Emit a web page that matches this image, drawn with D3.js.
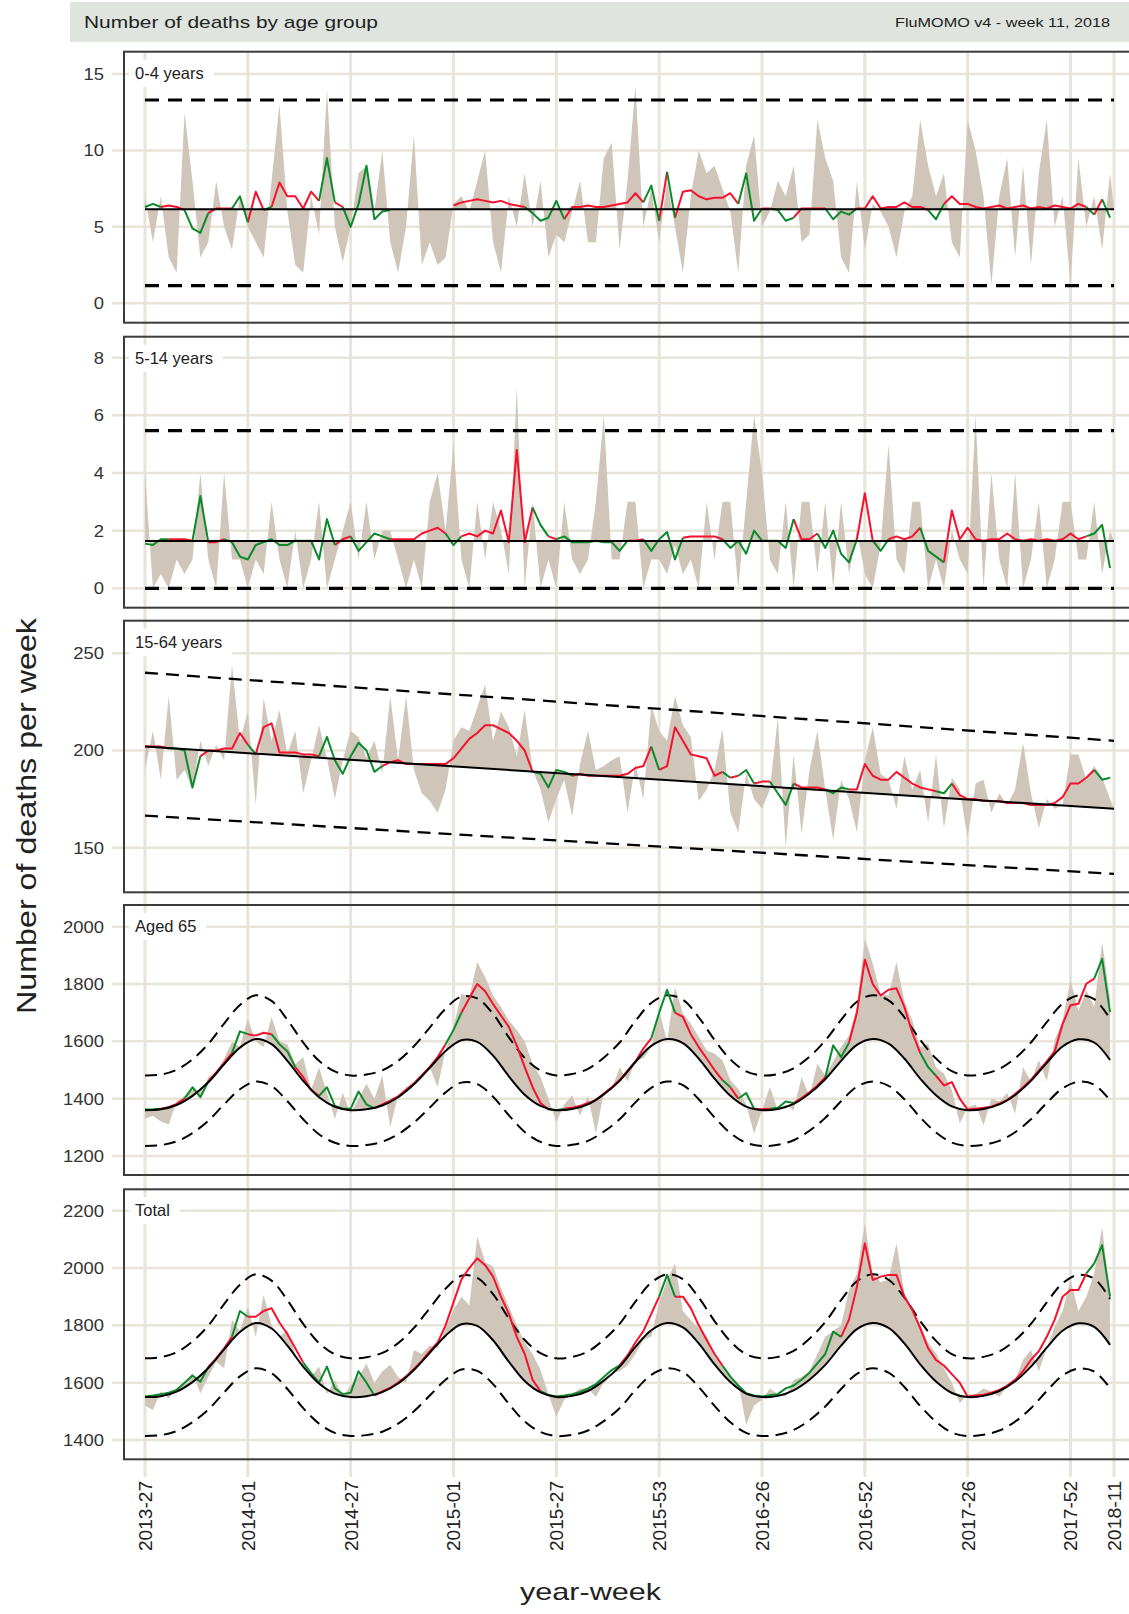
<!DOCTYPE html>
<html>
<head>
<meta charset="utf-8">
<script src="https://cdn.jsdelivr.net/npm/d3@7/dist/d3.min.js"></script>
<style>
  body { margin: 0; background: #fff; }
  svg { display: block; font-family: "Liberation Sans", Arial, sans-serif; }
</style>
</head>
<body>
<div class="chart-container"></div>
<script>
// Tick labels (year-week) and their position in weeks from 2013-27.
const weekLabels = ['2013-27', '2014-01', '2014-27', '2015-01', '2015-27', '2015-53',
    '2016-26', '2016-52', '2017-26', '2017-52', '2018-11'];
const weekIndex = [0, 26, 52, 78, 104, 130, 156, 182, 208, 234, 245];

// Observed and fitted series are sampled every 2 weeks, seasonal baselines every 4 weeks.
const obsStep = 2;
const seasonStep = 4;

// 0-4 years
const p1Observed = [7, 4, 7, 3, 2, 12.5, 8, 3, 4, 8, 5, 3.5, 7,
    5, 4, 3, 8, 13, 6, 2.5, 2, 7, 4.5, 14, 5, 2.7,
    5, 8.5, 9, 6, 10, 4, 2, 5, 11, 2.5, 4, 2.5, 3,
    6.5, 7, 6, 8, 10, 4, 2, 7, 5, 8.5, 5, 8, 3,
    4.5, 4, 6, 8, 4, 4, 9.5, 10.5, 3.5, 8, 14.2, 5, 7.5,
    4, 8, 5, 2, 7, 10, 8.5, 9, 7.5, 6, 2, 9, 11,
    5, 6, 8, 7, 9, 4, 4.5, 12, 9.5, 8, 3, 2, 8,
    3.5, 6.5, 6, 5, 3, 6, 7, 12, 9, 7, 8.5, 4, 3,
    12, 10, 7, 1.2, 7, 9.5, 3, 9, 2.5, 8.5, 12, 5, 7,
    1.3, 9.5, 5, 7, 3.5, 8.5];
const p1Fit = [6.3, 6.5, 6.3, 6.4, 6.3, 6.1, 4.9, 4.6, 5.9, 6.2, 6.2, 6.2, 7.0,
    5.3, 7.3, 6.1, 6.3, 7.9, 7.0, 7.0, 6.2, 7.3, 6.7, 9.5, 6.6, 6.3,
    5.0, 6.5, 9.0, 5.5, 6.0, 6.1, 6.15, 6.15, 6.15, 6.15, 6.15, 6.15, 6.15,
    6.4, 6.6, 6.7, 6.8, 6.7, 6.6, 6.7, 6.5, 6.4, 6.3, 5.9, 5.4, 5.6,
    6.7, 5.5, 6.3, 6.3, 6.4, 6.3, 6.3, 6.4, 6.5, 6.6, 7.2, 6.6, 7.7,
    5.4, 8.6, 5.6, 7.3, 7.4, 7.0, 6.8, 6.9, 6.9, 7.2, 6.5, 8.5, 5.4,
    6.2, 6.2, 6.1, 5.4, 5.6, 6.2, 6.2, 6.2, 6.2, 5.5, 6.0, 5.8, 6.2,
    6.2, 7.0, 6.2, 6.3, 6.3, 6.6, 6.3, 6.3, 6.1, 5.5, 6.5, 7.0, 6.5,
    6.5, 6.3, 6.2, 6.3, 6.4, 6.2, 6.3, 6.4, 6.2, 6.3, 6.2, 6.4, 6.3,
    6.2, 6.5, 6.3, 5.8, 6.8, 5.6];
const p1Baseline = [6.15, 6.15];
const p1Upper = [13.3, 13.3];
const p1Lower = [1.15, 1.15];
const p1Green = [[0, 4], [10, 16], [22, 26], [30, 32], [44, 48], [50, 62], [96, 106], [126, 130],
    [132, 134], [150, 156], [158, 164], [172, 180], [198, 202], [238, 240], [242, 244]];
const p1Red = [[4, 10], [16, 22], [26, 30], [32, 44], [48, 50], [78, 96], [106, 126], [130, 132],
    [134, 150], [156, 158], [164, 172], [180, 198], [202, 238], [240, 242]];

// 5-14 years
const p2Observed = [4, 0, 0.5, 0, 1, 0.5, 1, 4, 1, 0, 4, 1, 1,
    0, 1, 0.5, 3, 1, 0, 2, 0, 1, 3, 0, 1, 2,
    3, 1, 3, 1, 2, 2, 1, 0, 1, 0, 3, 4, 2,
    5, 1, 0, 3, 1, 3, 2, 0.5, 7, 0, 3, 0, 1,
    0, 3, 1, 0.5, 1, 3, 6, 1, 1, 3, 3, 0, 1,
    1, 0.5, 1.5, 0.5, 1, 0, 3, 1, 3, 3, 0, 3, 6,
    4, 1, 0.5, 3, 0, 3, 3, 0.5, 3, 0, 3, 0.5, 2,
    0.5, 0, 1.5, 5, 1, 0.5, 3, 3, 0, 1, 0, 2, 1,
    0.5, 6, 0, 4, 1, 0, 4, 0, 1, 3, 0, 1, 3,
    3, 1, 1, 3, 0.5, 2];
const p2Fit = [1.55, 1.5, 1.7, 1.7, 1.7, 1.7, 1.65, 3.2, 1.6, 1.6, 1.7, 1.6, 1.1,
    1.0, 1.5, 1.6, 1.7, 1.5, 1.5, 1.65, 1.65, 1.65, 1.0, 2.4, 1.5, 1.7,
    1.8, 1.3, 1.6, 1.9, 1.8, 1.7, 1.7, 1.7, 1.7, 1.9, 2.0, 2.1, 1.9,
    1.5, 1.8, 1.9, 1.8, 2.0, 1.9, 2.7, 1.6, 4.8, 1.6, 2.8, 2.2, 1.8,
    1.7, 1.8, 1.6, 1.6, 1.6, 1.65, 1.6, 1.6, 1.3, 1.65, 1.65, 1.7, 1.3,
    1.7, 1.95, 1.0, 1.75, 1.8, 1.8, 1.8, 1.8, 1.7, 1.4, 1.65, 1.2, 2.0,
    1.65, 1.65, 1.65, 1.4, 2.4, 1.7, 1.7, 1.9, 1.4, 2.0, 1.2, 0.9, 1.7,
    3.3, 1.65, 1.3, 1.7, 1.8, 1.7, 1.8, 2.1, 1.3, 1.1, 0.9, 2.7, 1.7,
    2.1, 1.7, 1.65, 1.7, 1.7, 1.9, 1.7, 1.65, 1.7, 1.65, 1.7, 1.65, 1.7,
    1.9, 1.7, 1.8, 1.9, 2.2, 0.7];
const p2Baseline = [1.64, 1.64];
const p2Upper = [5.47, 5.47];
const p2Lower = [0, 0];
const p2Green = [[0, 6], [12, 16], [20, 48], [52, 62], [76, 80], [98, 102], [104, 122], [126, 136],
    [146, 164], [170, 180], [184, 188], [196, 202], [238, 244]];
const p2Red = [[6, 12], [16, 20], [48, 52], [62, 76], [80, 98], [102, 104], [122, 126], [136, 146],
    [164, 170], [180, 184], [188, 196], [202, 238]];

// 15-64 years
const p3Observed = [190, 210, 185, 228, 185, 190, 180, 205, 192, 203, 195, 244, 205,
    220, 172, 227, 205, 221, 198, 210, 178, 195, 213, 196, 175, 195,
    210, 207, 196, 205, 188, 228, 195, 228, 190, 178, 174, 168, 180,
    205, 212, 210, 222, 234, 205, 220, 212, 197, 221, 190, 180, 163,
    175, 185, 166, 193, 210, 190, 192, 195, 197, 168, 193, 175, 223,
    210, 205, 228, 213, 207, 174, 180, 190, 211, 168, 158, 188, 175,
    170, 180, 217, 150, 198, 157, 190, 210, 180, 154, 185, 175, 158,
    195, 212, 188, 185, 170, 197, 180, 190, 163, 198, 160, 186, 180,
    155, 183, 185, 168, 178, 172, 180, 204, 178, 160, 175, 170, 172,
    198, 198, 185, 192, 186, 175];
const p3Fit = [202, 202, 202, 201, 201, 200, 181, 197, 200, 200, 201, 201, 209,
    203, 198, 212, 214, 199, 199, 199, 198, 198, 197, 207, 195, 188,
    197, 204, 200, 189, 192, 194, 195, 193, 193, 193, 193, 193, 193,
    196, 201, 206, 209, 213, 213, 211, 209, 205, 200, 189, 188, 181,
    190, 189, 187, 188, 187, 187, 187, 187, 187, 188, 191, 192, 202,
    190, 192, 212, 205, 198, 197, 196, 187, 189, 186, 187, 190, 183,
    184, 184, 178, 172, 183, 181, 181, 181, 180, 178, 181, 180, 180,
    193, 187, 185, 185, 189, 186, 183, 181, 180, 179, 178, 183, 177,
    175, 175, 174, 174, 174, 173, 173, 173, 172, 172, 172, 173, 176,
    183, 183, 186, 190, 185, 186];
const p3Baseline = [202, 170];
const p3Upper = [240, 205];
const p3Lower = [166.5, 136.5];
const p3Green = [[6, 14], [26, 28], [44, 60], [98, 108], [128, 130], [146, 148], [150, 154],
    [158, 164], [172, 178], [200, 204], [240, 244]];
const p3Red = [[0, 6], [14, 26], [28, 44], [60, 98], [108, 128], [130, 146], [148, 150],
    [154, 158], [164, 172], [178, 200], [204, 240]];

// Aged 65
const p4Observed = [1330, 1340, 1320, 1310, 1390, 1410, 1440, 1410, 1476, 1490, 1540, 1598, 1580,
    1679, 1600, 1580, 1685, 1600, 1590, 1520, 1545, 1430, 1510, 1420, 1330, 1420,
    1348, 1400, 1452, 1400, 1481, 1301, 1410, 1440, 1460, 1470, 1510, 1441, 1570,
    1650, 1766, 1755, 1877, 1824, 1760, 1720, 1673, 1640, 1600, 1520, 1476, 1400,
    1319, 1380, 1412, 1340, 1410, 1278, 1420, 1430, 1510, 1460, 1534, 1540, 1580,
    1708, 1600, 1790, 1697, 1662, 1615, 1569, 1557, 1534, 1464, 1435, 1380, 1278,
    1360, 1441, 1360, 1380, 1360, 1476, 1410, 1522, 1480, 1530, 1580, 1620, 1720,
    1960, 1871, 1766, 1760, 1877, 1740, 1673, 1580, 1592, 1510, 1487, 1430, 1313,
    1370, 1380, 1307, 1400, 1390, 1420, 1348, 1510, 1460, 1534, 1460, 1604, 1673,
    1813, 1708, 1778, 1720, 1947, 1750];
const p4Fit = [1362, 1363, 1365, 1370, 1382, 1400, 1440, 1405, 1460, 1492, 1525, 1560, 1635,
    1625, 1620, 1630, 1625, 1590, 1565, 1510, 1475, 1430, 1410, 1440, 1375, 1365,
    1365, 1425, 1380, 1366, 1380, 1393, 1408, 1430, 1453, 1482, 1511, 1545, 1590,
    1640, 1700, 1750, 1800, 1775, 1730, 1690, 1650, 1585, 1510, 1440, 1385, 1362,
    1360, 1365, 1368, 1375, 1385, 1395, 1418, 1440, 1465, 1498, 1530, 1575, 1610,
    1700, 1780, 1700, 1685, 1625, 1580, 1540, 1500, 1465, 1440, 1400, 1420, 1365,
    1363, 1365, 1368, 1390, 1385, 1402, 1422, 1445, 1475, 1586, 1545, 1595, 1700,
    1885, 1800, 1760, 1780, 1785, 1720, 1630, 1560, 1510, 1480, 1446, 1458, 1400,
    1362, 1365, 1368, 1372, 1383, 1395, 1416, 1440, 1466, 1498, 1530, 1565, 1660,
    1726, 1731, 1801, 1819, 1888, 1702];
const p4Baseline = [1360, 1363, 1378, 1410, 1457, 1520, 1578, 1608, 1590, 1532, 1462, 1405, 1372,
    1360, 1363, 1376, 1405, 1450, 1508, 1566, 1604, 1598, 1550, 1478, 1414, 1375,
    1360, 1364, 1380, 1415, 1462, 1528, 1584, 1608, 1594, 1540, 1470, 1410, 1372,
    1360, 1364, 1382, 1418, 1468, 1532, 1588, 1608, 1592, 1540, 1470, 1412, 1373,
    1360, 1364, 1380, 1413, 1462, 1525, 1582, 1607, 1596, 1535];
const p4Upper = [1481, 1484, 1501, 1537, 1591, 1662, 1727, 1761, 1741, 1675, 1596, 1532, 1495,
    1481, 1484, 1499, 1532, 1583, 1648, 1714, 1756, 1750, 1696, 1614, 1542, 1498,
    1481, 1486, 1504, 1543, 1596, 1671, 1734, 1761, 1745, 1684, 1605, 1537, 1495,
    1481, 1486, 1506, 1546, 1603, 1675, 1738, 1761, 1743, 1684, 1605, 1540, 1496,
    1481, 1486, 1504, 1541, 1596, 1667, 1732, 1760, 1747, 1679];
const p4Lower = [1235, 1238, 1251, 1280, 1323, 1380, 1433, 1460, 1444, 1391, 1328, 1276, 1246,
    1235, 1238, 1250, 1276, 1317, 1369, 1422, 1456, 1451, 1407, 1342, 1284, 1249,
    1235, 1239, 1253, 1285, 1328, 1387, 1438, 1460, 1447, 1398, 1335, 1280, 1246,
    1235, 1239, 1255, 1288, 1333, 1391, 1442, 1460, 1445, 1398, 1335, 1282, 1247,
    1235, 1239, 1253, 1283, 1328, 1385, 1436, 1459, 1449, 1394];
const p4Green = [[0, 4], [10, 16], [22, 26], [32, 38], [44, 58], [76, 80], [102, 106], [128, 134],
    [146, 148], [150, 154], [158, 164], [172, 178], [196, 200], [240, 244]];
const p4Red = [[4, 10], [16, 22], [26, 32], [38, 44], [58, 76], [80, 102], [106, 128], [134, 146],
    [148, 150], [154, 158], [164, 172], [178, 196], [200, 240]];

// Total
const p5Observed = [1520, 1505, 1570, 1545, 1580, 1600, 1633, 1563, 1620, 1673, 1650, 1819, 1780,
    1865, 1760, 1906, 1800, 1760, 1784, 1700, 1650, 1621, 1656, 1560, 1609, 1551,
    1590, 1620, 1667, 1600, 1640, 1662, 1620, 1600, 1714, 1700, 1730, 1720, 1790,
    1854, 1900, 1870, 2109, 2020, 2005, 1930, 1865, 1800, 1740, 1700, 1644, 1560,
    1481, 1540, 1560, 1580, 1580, 1550, 1600, 1633, 1640, 1660, 1700, 1749, 1760,
    1880, 1958, 2016, 1850, 1819, 1790, 1760, 1691, 1660, 1620, 1600, 1452, 1520,
    1540, 1580, 1560, 1551, 1609, 1620, 1640, 1700, 1760, 1780, 1800, 1923, 1980,
    2156, 1981, 1950, 1960, 2086, 1912, 1860, 1800, 1740, 1702, 1650, 1600, 1528,
    1560, 1560, 1580, 1570, 1550, 1590, 1609, 1680, 1714, 1640, 1720, 1795, 1850,
    1958, 1850, 1900, 1980, 2144, 1900];
const p5Fit = [1552, 1555, 1560, 1565, 1575, 1600, 1625, 1603, 1655, 1685, 1720, 1760, 1850,
    1830, 1830, 1850, 1860, 1810, 1770, 1720, 1670, 1633, 1600, 1656, 1580, 1560,
    1565, 1640, 1600, 1555, 1570, 1582, 1600, 1622, 1648, 1676, 1710, 1740, 1800,
    1880, 1960, 2000, 2034, 2010, 1970, 1900, 1840, 1760, 1700, 1610, 1570, 1557,
    1552, 1555, 1560, 1568, 1580, 1595, 1620, 1644, 1660, 1695, 1740, 1780, 1840,
    1900, 1976, 1900, 1900, 1860, 1800, 1750, 1700, 1660, 1621, 1590, 1563, 1555,
    1552, 1556, 1560, 1580, 1590, 1610, 1635, 1667, 1700, 1778, 1760, 1820, 1935,
    2086, 1958, 1970, 1976, 1976, 1900, 1854, 1790, 1720, 1679, 1660, 1630, 1600,
    1551, 1555, 1558, 1565, 1575, 1590, 1610, 1640, 1680, 1710, 1760, 1820, 1900,
    1923, 1923, 1981, 2016, 2080, 1900];
const p5Baseline = [1550, 1553, 1569, 1602, 1651, 1716, 1777, 1808, 1789, 1729, 1656, 1597, 1562,
    1550, 1553, 1567, 1597, 1644, 1704, 1764, 1804, 1798, 1748, 1673, 1606, 1566,
    1550, 1554, 1571, 1607, 1656, 1725, 1783, 1808, 1793, 1737, 1664, 1602, 1562,
    1550, 1554, 1573, 1610, 1662, 1729, 1787, 1808, 1791, 1737, 1664, 1604, 1564,
    1550, 1554, 1571, 1605, 1656, 1722, 1781, 1807, 1795, 1732];
const p5Upper = [1685, 1689, 1706, 1744, 1799, 1874, 1942, 1978, 1956, 1888, 1805, 1738, 1699,
    1685, 1689, 1704, 1738, 1791, 1860, 1928, 1973, 1966, 1909, 1824, 1749, 1703,
    1685, 1690, 1709, 1750, 1805, 1883, 1949, 1978, 1961, 1897, 1815, 1744, 1699,
    1685, 1690, 1711, 1753, 1812, 1888, 1954, 1978, 1959, 1897, 1815, 1746, 1700,
    1685, 1690, 1709, 1748, 1805, 1880, 1947, 1976, 1963, 1892];
const p5Lower = [1414, 1417, 1431, 1462, 1506, 1566, 1622, 1650, 1633, 1578, 1511, 1457, 1425,
    1414, 1417, 1429, 1457, 1500, 1555, 1610, 1646, 1641, 1595, 1526, 1465, 1428,
    1414, 1418, 1433, 1466, 1511, 1574, 1627, 1650, 1637, 1585, 1519, 1462, 1425,
    1414, 1418, 1435, 1469, 1517, 1578, 1631, 1650, 1635, 1585, 1519, 1464, 1426,
    1414, 1418, 1433, 1464, 1511, 1571, 1625, 1649, 1639, 1581];
const p5Green = [[0, 16], [22, 26], [40, 58], [100, 120], [130, 134], [146, 176], [238, 244]];
const p5Red = [[16, 22], [26, 40], [58, 100], [120, 130], [134, 146], [176, 238]];

const svg = d3
    .select('.chart-container')
    .append('svg')
    .attr('width', 1129)
    .attr('height', 1614);

const colors = {
    fill: '#cfc6b9',
    grid: '#e9e4d9',
    red: '#f7112c',
    green: '#0c8a2b',
    frame: '#3b3b3b',
    text: '#222'
};

const xScale = d3.scaleLinear().domain([0, 245]).range([145, 1114]);

// Main function.
function ready() {
    const panels = [
        {label: '0-4 years', ticks: [0, 5, 10, 15], domain: [0, 15], range: [303.3, 74], frame: [51.7, 322.7],
            obs: p1Observed, fit: p1Fit, base: p1Baseline, upper: p1Upper, lower: p1Lower, baseStep: 245,
            green: p1Green, red: p1Red, dash: '14,9', dashWidth: 3.2},
        {label: '5-14 years', ticks: [0, 2, 4, 6, 8], domain: [0, 8], range: [588.3, 357.7], frame: [336.7, 607.7],
            obs: p2Observed, fit: p2Fit, base: p2Baseline, upper: p2Upper, lower: p2Lower, baseStep: 245,
            green: p2Green, red: p2Red, dash: '14,9', dashWidth: 3.2},
        {label: '15-64 years', ticks: [150, 200, 250], domain: [150, 250], range: [847.7, 653.3], frame: [620.7, 892.3],
            obs: p3Observed, fit: p3Fit, base: p3Baseline, upper: p3Upper, lower: p3Lower, baseStep: 245,
            green: p3Green, red: p3Red, dash: '13,8', dashWidth: 2.3},
        {label: 'Aged 65', ticks: [1200, 1400, 1600, 1800, 2000], domain: [1200, 2000], range: [1156, 926.7], frame: [905, 1175],
            obs: p4Observed, fit: p4Fit, base: p4Baseline, upper: p4Upper, lower: p4Lower, baseStep: seasonStep,
            green: p4Green, red: p4Red, dash: '12,7', dashWidth: 2},
        {label: 'Total', ticks: [1400, 1600, 1800, 2000, 2200], domain: [1400, 2200], range: [1440, 1210.7], frame: [1189.3, 1459.3],
            obs: p5Observed, fit: p5Fit, base: p5Baseline, upper: p5Upper, lower: p5Lower, baseStep: seasonStep,
            green: p5Green, red: p5Red, dash: '12,7', dashWidth: 2}
    ];

    drawHeader();
    drawVerticalGrid();
    panels.forEach(drawPanel);
    drawAxisX();
    drawTitles();
}

function toPoints(values, step) {
    return values.map((v, i) => ({w: i * step, v: v}));
}

function drawHeader() {
    const header = svg.append('g').attr('class', 'chart-header');
    header.append('rect')
        .attr('x', 70).attr('y', 2)
        .attr('width', 1059).attr('height', 40)
        .attr('fill', '#dfe5de');
    header.append('text')
        .attr('x', 84).attr('y', 28)
        .attr('font-size', 17)
        .attr('textLength', 294)
        .attr('lengthAdjust', 'spacingAndGlyphs')
        .attr('fill', colors.text)
        .text('Number of deaths by age group');
    header.append('text')
        .attr('x', 895).attr('y', 27)
        .attr('font-size', 13)
        .attr('textLength', 215)
        .attr('lengthAdjust', 'spacingAndGlyphs')
        .attr('fill', colors.text)
        .text('FluMOMO v4 - week 11, 2018');
}

function drawVerticalGrid() {
    svg.append('g')
        .selectAll('line')
        .data(weekIndex)
        .enter()
        .append('line')
        .attr('x1', d => xScale(d)).attr('x2', d => xScale(d))
        .attr('y1', 51).attr('y2', 1477)
        .attr('stroke', colors.grid)
        .attr('stroke-width', 3);
}

function drawPanel(p) {
    const yScale = d3.scaleLinear().domain(p.domain).range(p.range);
    const g = svg.append('g').attr('class', 'panel');

    // horizontal grid + tick labels
    g.append('g')
        .selectAll('line')
        .data(p.ticks)
        .enter()
        .append('line')
        .attr('x1', 112).attr('x2', 1129)
        .attr('y1', d => yScale(d)).attr('y2', d => yScale(d))
        .attr('stroke', colors.grid)
        .attr('stroke-width', 2.5);

    g.append('g')
        .selectAll('text')
        .data(p.ticks)
        .enter()
        .append('text')
        .attr('transform', d => `translate(104, ${yScale(d)}) scale(1.12, 1)`)
        .attr('dy', '0.36em')
        .attr('text-anchor', 'end')
        .attr('font-size', 16.5)
        .attr('fill', '#333')
        .text(d => d);

    // panel label on a white patch
    const labelBg = g.append('rect').attr('fill', '#fff');
    const label = g.append('text')
        .attr('x', 135).attr('y', p.frame[0] + 27)
        .attr('font-size', 16.5)
        .attr('fill', colors.text)
        .text(p.label);
    const lw = label.node().getComputedTextLength();
    labelBg
        .attr('x', 129).attr('y', p.frame[0] + 8)
        .attr('width', lw + 16).attr('height', 27);

    const obs = toPoints(p.obs, obsStep);
    const fit = toPoints(p.fit, obsStep);
    const base = toPoints(p.base, p.baseStep);
    const upper = toPoints(p.upper, p.baseStep);
    const lower = toPoints(p.lower, p.baseStep);

    const line = d3.line().x(d => xScale(d.w)).y(d => yScale(d.v));
    const smooth = d3.line().x(d => xScale(d.w)).y(d => yScale(d.v)).curve(d3.curveCatmullRom);

    // area between observed and baseline
    const back = smooth(base.slice().reverse()).replace(/^M/, 'L');
    g.append('path')
        .attr('d', line(obs) + back + 'Z')
        .attr('fill', colors.fill)
        .attr('fill-rule', 'nonzero');

    [upper, lower].forEach(band => {
        g.append('path')
            .attr('d', smooth(band))
            .attr('fill', 'none')
            .attr('stroke', '#000')
            .attr('stroke-width', p.dashWidth)
            .attr('stroke-dasharray', p.dash);
    });

    drawFit(g, fit, p.red, colors.red, line);
    drawFit(g, fit, p.green, colors.green, line);

    g.append('path')
        .attr('d', smooth(base))
        .attr('fill', 'none')
        .attr('stroke', '#000')
        .attr('stroke-width', 2);

    // frame
    g.append('rect')
        .attr('x', 124).attr('y', p.frame[0])
        .attr('width', 1020).attr('height', p.frame[1] - p.frame[0])
        .attr('fill', 'none')
        .attr('stroke', colors.frame)
        .attr('stroke-width', 2);
}

function drawFit(g, fit, ranges, color, line) {
    ranges.forEach(([a, b]) => {
        const seg = fit.filter(d => d.w >= a && d.w <= b);
        g.append('path')
            .attr('d', line(seg))
            .attr('fill', 'none')
            .attr('stroke', color)
            .attr('stroke-width', 2)
            .attr('stroke-linejoin', 'round');
    });
}

function drawAxisX() {
    svg.append('g')
        .selectAll('text')
        .data(weekIndex)
        .enter()
        .append('text')
        .attr('transform', (d, i) => `translate(${xScale(d) + 7}, 1481) rotate(-90)`)
        .attr('text-anchor', 'end')
        .attr('font-size', 19)
        .attr('textLength', 70)
        .attr('lengthAdjust', 'spacingAndGlyphs')
        .attr('fill', colors.text)
        .text((d, i) => weekLabels[i]);
}

function drawTitles() {
    svg.append('text')
        .attr('x', 520).attr('y', 1600)
        .attr('font-size', 24)
        .attr('textLength', 141)
        .attr('lengthAdjust', 'spacingAndGlyphs')
        .attr('fill', colors.text)
        .text('year-week');

    svg.append('text')
        .attr('transform', 'translate(36, 1014) rotate(-90)')
        .attr('font-size', 28)
        .attr('textLength', 396)
        .attr('lengthAdjust', 'spacingAndGlyphs')
        .attr('fill', colors.text)
        .text('Number of deaths per week');
}

ready();
</script>
</body>
</html>
